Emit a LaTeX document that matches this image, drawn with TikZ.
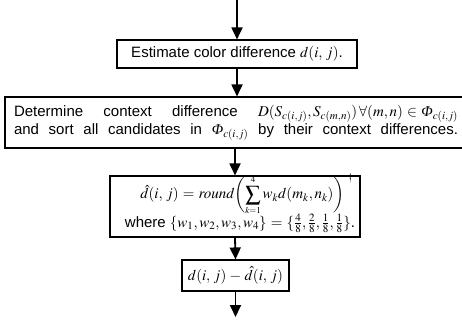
\documentclass[tikz,border=0pt]{standalone}
\usepackage{mathptmx}
\usepackage{amsmath}
\usepackage{fontspec}
\setmainfont{Liberation Sans}
\newfontfamily\tmsfont{Liberation Serif}
\newcommand\myPhi{\mbox{\tmsfont\itshape Φ}}
\usetikzlibrary{arrows.meta}
\thickmuskip=5mu
\medmuskip=4mu
\begin{document}
\begin{tikzpicture}[x=1pt,y=-1pt,
  txt/.style={inner sep=0pt, align=center, font=\fontsize{15}{18}\selectfont},
  box/.style={txt, draw, line width=1.1pt},
  arr/.style={line width=1.8pt, -{Triangle[width=11pt,length=12pt]}}]
\useasboundingbox (0,0) rectangle (462,320);
\coordinate (top) at (237,0);
\node[box, minimum width=240pt, minimum height=28pt] (b1) at (237,54)
  {Estimate color difference $d(i,\,j)$.};
\node[box, minimum width=462pt, minimum height=51pt] (b2) at (236,122.5)
  {\makebox[444pt][s]{Determine context difference $D(S_{c(i,j)},S_{c(m,n)})\,\forall(m,n)\in\myPhi_{c(i,j)}$}\\
   \makebox[444pt][s]{and sort all candidates in $\myPhi_{c(i,j)}$ by their context differences.}};
\node[box, minimum width=250pt, minimum height=61pt] (b3) at (235,206.5) {};
\node[txt] (t3a) at (247,194.5)
  {$\displaystyle \hat d(i,\,j)=\mathit{round}\biggl(\sum_{\scriptscriptstyle k=1}^{\scriptscriptstyle 4} w_k d(m_k,n_k)\biggr)^{\;\dagger}$};
\node[txt] (t3b) at (240,223.5)
  {where $\{w_1,w_2,w_3,w_4\}=\{\tfrac48,\tfrac28,\tfrac18,\tfrac18\}$.};
\node[box, minimum width=107pt, minimum height=31pt] (b4) at (235.5,275.5)
  {$d(i,\,j)-\hat d(i,\,j)$};
\coordinate (bot) at (235.5,317);
\draw[arr] (top) -- (b1.north);
\draw[arr] (b1.south) -- (b1.south |- b2.north);
\draw[arr] (b3.north |- b2.south) -- (b3.north);
\draw[arr] (b3.south) -- (b4.north);
\draw[arr] (b4.south) -- (bot);
\end{tikzpicture}
\end{document}
